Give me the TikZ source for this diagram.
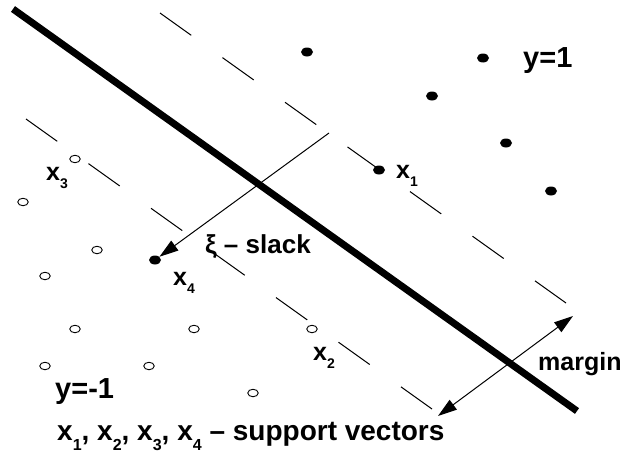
\documentclass[tikz,border=0pt]{standalone}
\usepackage{fontspec}
\setmainfont{Liberation Sans}
\usetikzlibrary{arrows.meta,shapes.geometric}
\newcommand\lowsub[1]{\raisebox{-8pt}{\fontsize{14}{14}\selectfont #1}}
\newcommand\biglowsub[1]{\raisebox{-10pt}{\fontsize{16}{16}\selectfont #1}}
\begin{document}
\begin{tikzpicture}[x=1pt,y=-1pt,
  lbl/.style={inner sep=0pt, anchor=base west, font=\fontsize{25}{30}\selectfont\bfseries},
  biglbl/.style={lbl, font=\fontsize{29}{34}\selectfont\bfseries},
  notelbl/.style={lbl, font=\fontsize{28}{33}\selectfont\bfseries},
  posdot/.style={ellipse, fill=black, minimum width=12pt, minimum height=9pt, inner sep=0pt},
  negdot/.style={ellipse, draw=black, line width=0.9pt, fill=white, minimum width=10.5pt, minimum height=7.5pt, inner sep=0pt},
  margline/.style={line width=1pt, dash pattern=on 38.4pt off 38.4pt},
  hyper/.style={line width=7pt},
  thinline/.style={line width=1pt},
  arrtip/.tip={Triangle[length=19pt,width=12pt]}
]
\useasboundingbox (0,0) rectangle (621,455);
% margin lines
\coordinate (u1) at (160,13);
\coordinate (u2) at (566,303);
\coordinate (l1) at (26,119);
\coordinate (l2) at (432,409);
\draw[margline] (u1) -- (u2);
\draw[margline] (l1) -- (l2);
% hyperplane
\coordinate (h1) at (13,9);
\coordinate (h2) at (577,411);
\draw[hyper] (h1) -- (h2);
% positive points
\node[posdot] (p1) at (307,52) {};
\node[posdot] (p2) at (483,58) {};
\node[posdot] (p3) at (432,96) {};
\node[posdot] (p4) at (506,143) {};
\node[posdot] (p5) at (551,191) {};
\node[posdot] (x1) at (379,170) {};
\node[posdot] (x4) at (155,260) {};
% negative points
\node[negdot] (x3) at (75,159) {};
\node[negdot] (n1) at (23,202) {};
\node[negdot] (n2) at (97,250) {};
\node[negdot] (n3) at (45,276) {};
\node[negdot] (n4) at (75,329) {};
\node[negdot] (n5) at (194,329) {};
\node[negdot] (x2) at (312,329) {};
\node[negdot] (n6) at (45,366) {};
\node[negdot] (n7) at (149,366) {};
\node[negdot] (n8) at (253,393) {};
% slack arrow
\coordinate (s0) at (329,133);
\draw[thinline,-arrtip] (s0) -- (x4);
% margin arrow
\coordinate (m1) at (438,416);
\coordinate (m2) at (573,316);
\draw[thinline,arrtip-arrtip] (m1) -- (m2);
% labels
\node[biglbl] (ly1) at (523,67) {y=1};
\node[biglbl] (lym) at (55,398) {y=-1};
\node[lbl] (lx1) at (396,178) {x\lowsub{1}};
\node[lbl] (lx3) at (46,180) {x\lowsub{3}};
\node[lbl] (lx4) at (173,285) {x\lowsub{4}};
\node[lbl] (lx2) at (313,360) {x\lowsub{2}};
\node[lbl, font=\fontsize{26}{31}\selectfont\bfseries] (lsl) at (205,253) {ξ – slack};
\node[lbl] (lmg) at (538,370) {margin};
\node[notelbl] (lsv) at (57,440) {x\biglowsub{1}, x\biglowsub{2}, x\biglowsub{3}, x\biglowsub{4} – support vectors};
\end{tikzpicture}
\end{document}
